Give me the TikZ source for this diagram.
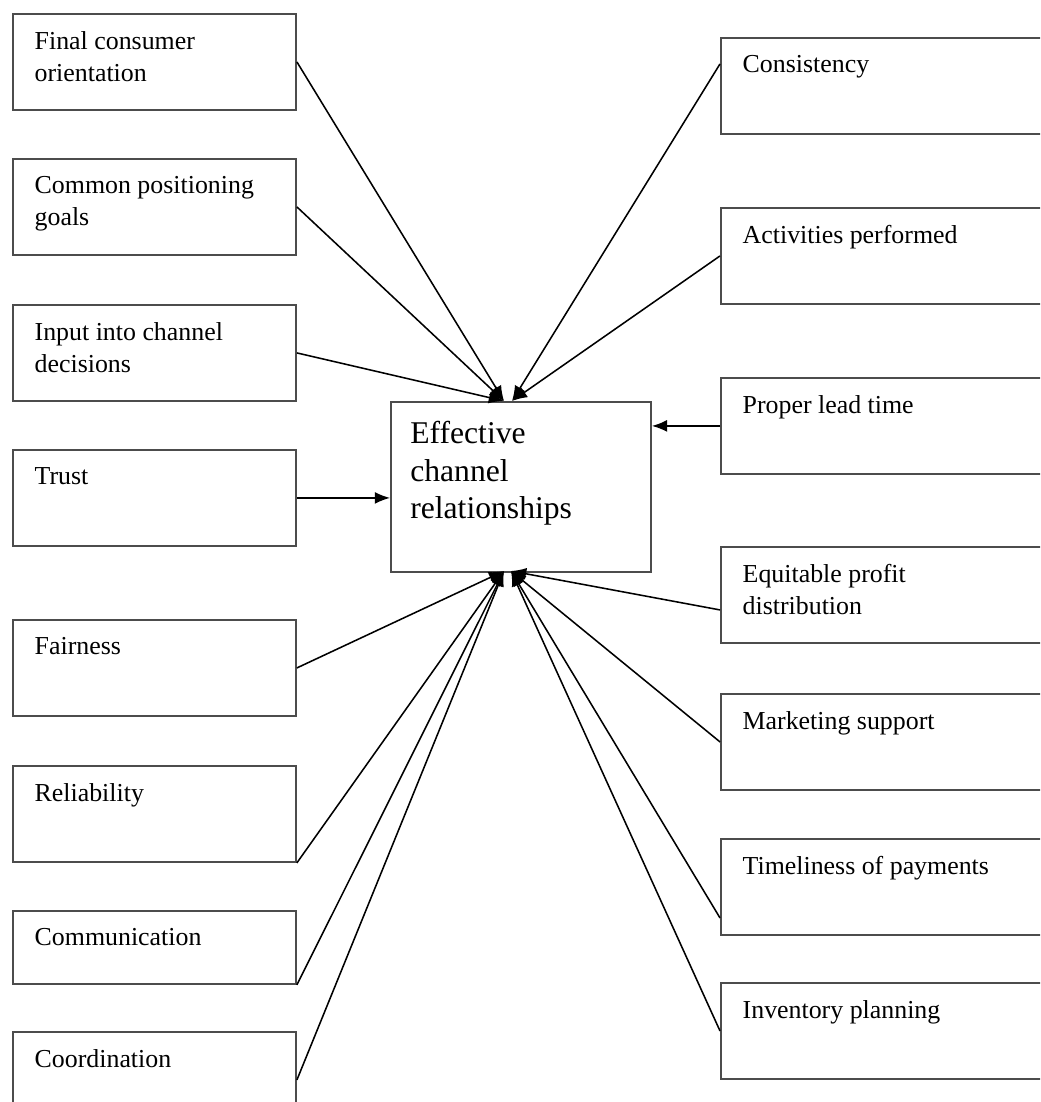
\documentclass[tikz,border=0pt]{standalone}
\usepackage{fontspec}
\setmainfont{Liberation Serif}
\usetikzlibrary{arrows.meta,positioning}

\begin{document}
\begin{tikzpicture}[
  x=0.025cm, y=-0.025cm,
  bx/.style={draw=black!70,line width=1.3pt,anchor=north west,minimum width=7.075cm,minimum height=2.4cm,inner sep=0pt},
  rb/.style={bx,minimum width=9cm},
  tx/.style={align=left,inner sep=0pt,font=\fontsize{18.4}{22.8}\selectfont},
  a/.style={line width=1.1pt,-{Latex[length=3.8mm,width=3mm]}}
]
\clip (0,0) rectangle (1040,1102);

% centre
\node[bx,minimum width=6.5cm,minimum height=4.25cm] (ecr) at (390,401) {};
\node[tx,font=\fontsize{22.5}{26.7}\selectfont,below right=0.5cm and 0.5cm of ecr.north west] (tecr) {Effective\\channel\\relationships};

% left column
\node[bx] (fco) at (12,13) {};
\node[bx] (cpg) at (12,158) {};
\node[bx] (icd) at (12,304) {};
\node[bx] (tru) at (12,449) {};
\node[bx] (fai) at (12,619) {};
\node[bx] (rel) at (12,765) {};
\node[bx,minimum height=1.825cm] (com) at (12,910) {};
\node[bx] (coo) at (12,1031) {};

% right column
\node[rb] (con) at (720,37) {};
\node[rb] (act) at (720,207) {};
\node[rb] (plt) at (720,377) {};
\node[rb] (epd) at (720,546) {};
\node[rb] (mks) at (720,693) {};
\node[rb] (tip) at (720,838) {};
\node[rb] (inv) at (720,982) {};

% texts
\foreach \b/\t in {fco/{Final consumer\\orientation},cpg/{Common positioning\\goals},
  icd/{Input into channel\\decisions},tru/Trust,fai/Fairness,rel/Reliability,
  com/Communication,coo/Coordination,con/Consistency,act/Activities performed,
  plt/Proper lead time,epd/{Equitable profit\\distribution},mks/Marketing support,
  tip/Timeliness of payments,inv/Inventory planning}
  \node[tx,below right=0.45cm and 0.56cm of \b.north west] (t\b) {\t};

% connectors
\coordinate (tl) at (504,401);
\coordinate (tr) at (512,401);
\coordinate (bl) at (504,571);
\coordinate (br) at (511,571);

\foreach \x in {fco,cpg,icd} \draw[a] (\x.east) -- (tl);
\draw[a] (tru.east) -- (tru.east -| ecr.west);
\draw[a] (fai.east) -- (bl);
\draw[a] (rel.south east) -- (bl);
\draw[a] (com.south east) -- (bl);
\draw[a] (coo.east) -- (bl);

\draw[a] ([yshift=0.55cm]con.west) -- (tr);
\draw[a] (act.west) -- (tr);
\draw[a] (plt.west) -- (plt.west -| ecr.east);
\draw[a] ([yshift=-0.375cm]epd.west) -- (br);
\foreach \x in {mks,inv} \draw[a] (\x.west) -- (br);
\draw[a] ([yshift=-0.775cm]tip.west) -- (br);
\end{tikzpicture}
\end{document}
